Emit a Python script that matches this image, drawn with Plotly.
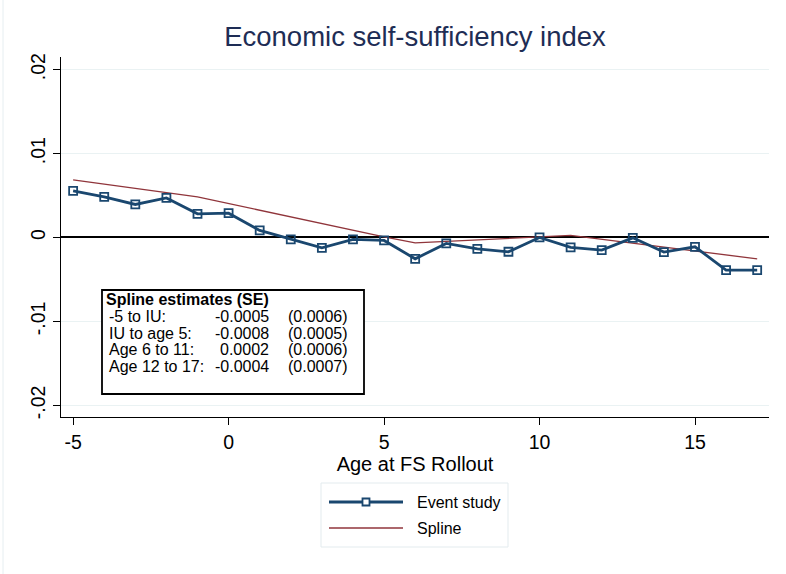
import plotly.graph_objects as go

# ---- data ----
event_age = [-5, -4, -3, -2, -1, 0, 1, 2, 3, 4, 5, 6, 7, 8, 9, 10, 11, 12, 13, 14, 15, 16, 17]
event_coef = [0.00555, 0.00483, 0.00393, 0.00471, 0.00281, 0.00289, 0.00083, -0.00024,
              -0.00124, -0.00024, -0.00036, -0.00255, -0.00071, -0.00136, -0.00171, 0.0,
              -0.00119, -0.00151, -0.00005, -0.00175, -0.00112, -0.00389, -0.00389]

spline_age = [-5, -1, 5, 6, 11, 17]
spline_val = [0.00686, 0.00483, 0.00007, -0.00064, 0.00024, -0.00255]

y_ticks = [-0.02, -0.01, 0, 0.01, 0.02]
y_ticklabels = ["-.02", "-.01", "0", ".01", ".02"]
x_ticks = [-5, 0, 5, 10, 15]
x_ticklabels = ["-5", "0", "5", "10", "15"]

table_title = "Spline estimates (SE)"
table_labels = ["-5 to IU:", "IU to age 5:", "Age 6 to 11:", "Age 12 to 17:"]
table_est = ["-0.0005", "-0.0008", "0.0002", "-0.0004"]
table_se = ["(0.0006)", "(0.0005)", "(0.0006)", "(0.0007)"]

legend_names = ["Event study", "Spline"]

NAVY = "#1a476f"
MAROON = "#90353b"
FONT = "Liberation Sans, Arial, sans-serif"

W, H = 786, 574
L, R, T, B = 61, 17, 57, 157
PW, PH = W - L - R, H - T - B


def px(x):
    return (x - L) / PW


def py(y):
    return (H - B - y) / PH


fig = go.Figure()
fig.add_trace(go.Scatter(x=spline_age, y=spline_val, mode="lines",
                         line=dict(color=MAROON, width=1.3), name=legend_names[1],
                         showlegend=False))
fig.add_trace(go.Scatter(x=event_age, y=event_coef, mode="lines+markers",
                         line=dict(color=NAVY, width=2.8),
                         marker=dict(symbol="square-open", size=8, color=NAVY,
                                     line=dict(width=1.8, color=NAVY)),
                         name=legend_names[0], showlegend=False))

shapes = []
annotations = []

# Spline estimate box
shapes.append(dict(type="rect", xref="paper", yref="paper",
                   x0=px(102), x1=px(364), y0=py(394), y1=py(290),
                   line=dict(color="black", width=1.8), fillcolor="white", layer="above"))
annotations.append(dict(xref="paper", yref="paper", x=px(103.5), y=py(299),
                        text="<b>" + table_title + "</b>", showarrow=False,
                        xanchor="left", yanchor="middle",
                        font=dict(family=FONT, size=16, color="black")))
row_y = [316, 333, 349.5, 366]
for i in range(len(table_labels)):
    annotations.append(dict(xref="paper", yref="paper", x=px(107), y=py(row_y[i]),
                            text=table_labels[i], showarrow=False, xanchor="left",
                            yanchor="middle", font=dict(family=FONT, size=16, color="black")))
    annotations.append(dict(xref="paper", yref="paper", x=px(271), y=py(row_y[i]),
                            text=table_est[i], showarrow=False, xanchor="right",
                            yanchor="middle", font=dict(family=FONT, size=16, color="black")))
    annotations.append(dict(xref="paper", yref="paper", x=px(286), y=py(row_y[i]),
                            text=table_se[i], showarrow=False, xanchor="left",
                            yanchor="middle", font=dict(family=FONT, size=16, color="black")))

# Manual legend
shapes.append(dict(type="rect", xref="paper", yref="paper",
                   x0=px(321), x1=px(508), y0=py(547), y1=py(483),
                   line=dict(color="#e3ebee", width=1), fillcolor="white"))
shapes.append(dict(type="line", xref="paper", yref="paper",
                   x0=px(329), x1=px(403), y0=py(502), y1=py(502),
                   line=dict(color=NAVY, width=2.8)))
shapes.append(dict(type="rect", xref="paper", yref="paper",
                   x0=px(362.5), x1=px(369.5), y0=py(505.5), y1=py(498.5),
                   line=dict(color=NAVY, width=1.8), fillcolor="white"))
shapes.append(dict(type="line", xref="paper", yref="paper",
                   x0=px(329), x1=px(403), y0=py(528), y1=py(528),
                   line=dict(color=MAROON, width=1.3)))
annotations.append(dict(xref="paper", yref="paper", x=px(415), y=py(502),
                        text=legend_names[0], showarrow=False, xanchor="left", yanchor="middle",
                        font=dict(family=FONT, size=16, color="black")))
annotations.append(dict(xref="paper", yref="paper", x=px(415), y=py(528),
                        text=legend_names[1], showarrow=False, xanchor="left", yanchor="middle",
                        font=dict(family=FONT, size=16, color="black")))

# faint outer frame line at left
shapes.append(dict(type="line", xref="paper", yref="paper",
                   x0=px(3), x1=px(3), y0=py(574), y1=py(0),
                   line=dict(color="#e6eef1", width=1)))

fig.update_layout(
    width=W, height=H,
    margin=dict(l=L, r=R, t=T, b=B, pad=0),
    paper_bgcolor="white", plot_bgcolor="white",
    title=dict(text="Economic self-sufficiency index", x=px(415), xref="paper", xanchor="center",
               y=1 - 36 / H, yref="container", yanchor="middle",
               font=dict(family=FONT, size=27.5, color="#1e2d55")),
    font=dict(family=FONT, color="black"),
    showlegend=False,
    shapes=shapes,
    annotations=annotations,
)
fig.update_xaxes(range=[-5.39, 17.38], tickvals=x_ticks, ticktext=x_ticklabels, showgrid=False,
                 showline=True, linecolor="black", linewidth=1.2,
                 ticks="outside", ticklen=7, tickwidth=1.2, tickcolor="black",
                 tickfont=dict(family=FONT, size=19.5, color="black"),
                 title=dict(text="Age at FS Rollout", standoff=4,
                            font=dict(family=FONT, size=20, color="black")),
                 zeroline=False)
fig.update_yaxes(range=[-0.0214, 0.0215], tickvals=y_ticks, ticktext=y_ticklabels,
                 tickangle=-90, showgrid=True, gridcolor="#eaf2f3", gridwidth=1,
                 showline=True, linecolor="black", linewidth=1.2,
                 ticks="outside", ticklen=7, tickwidth=1.2, tickcolor="black",
                 tickfont=dict(family=FONT, size=19.5, color="black"),
                 zeroline=True, zerolinecolor="black", zerolinewidth=1.6)

fig.write_html("out.html", config={"displayModeBar": False},
               post_script="document.body.style.margin='0';document.body.style.overflow='hidden';")
